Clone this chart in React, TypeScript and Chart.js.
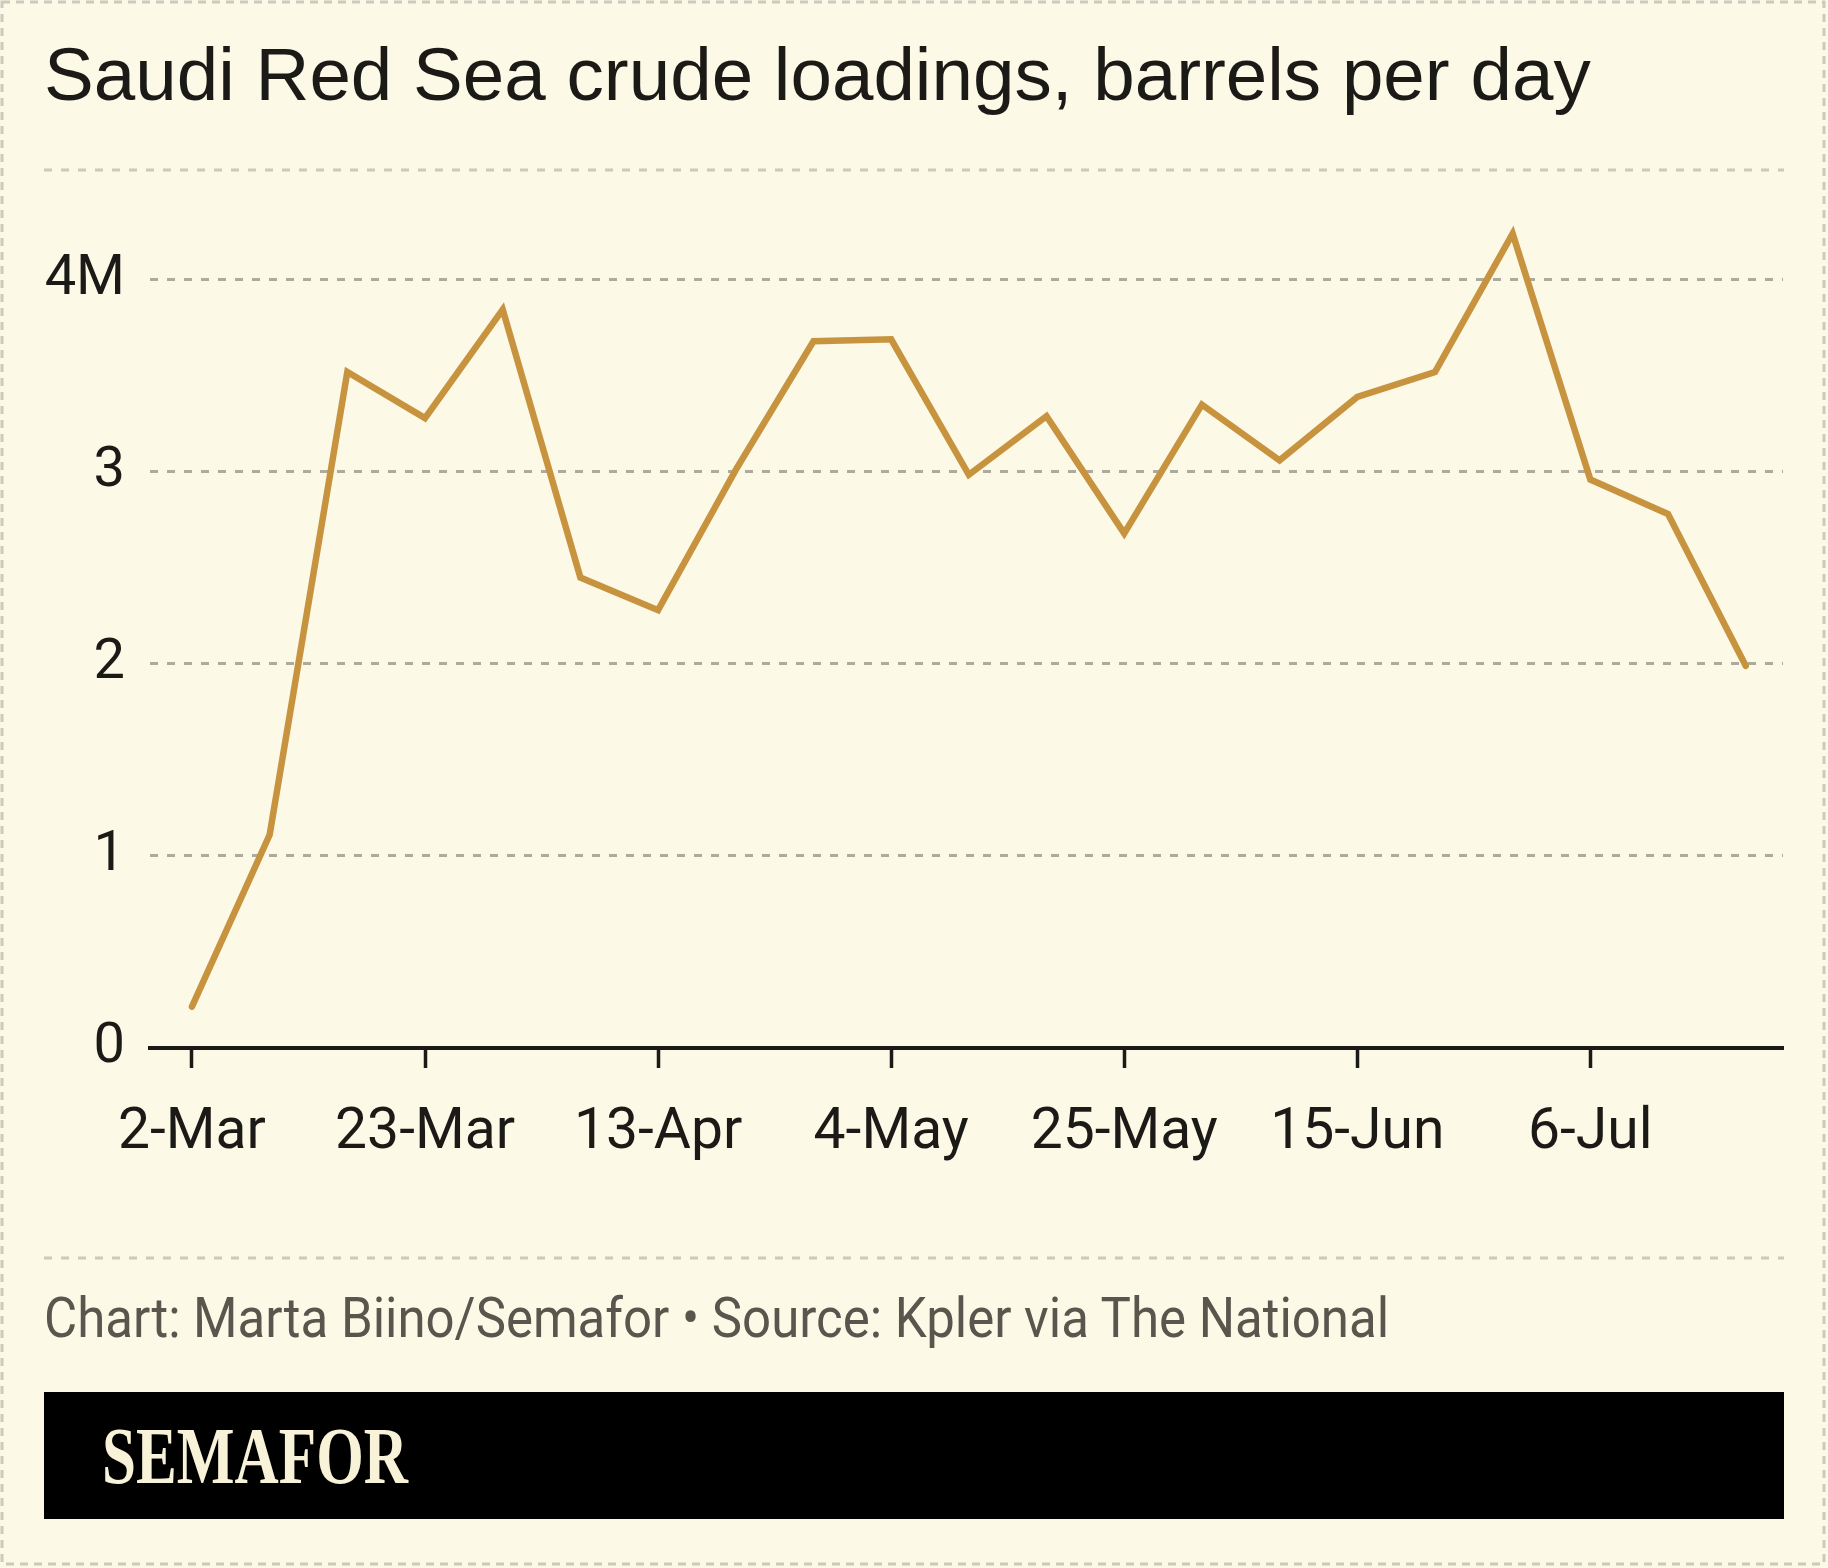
import React, { useEffect, useRef } from "react";
import { Chart, registerables } from "chart.js";

Chart.register(...registerables);

// Weekly crude loadings from Saudi Red Sea ports, million barrels per day
const weeks = [
  "2-Mar", "9-Mar", "16-Mar", "23-Mar", "30-Mar", "6-Apr", "13-Apr",
  "20-Apr", "27-Apr", "4-May", "11-May", "18-May", "25-May", "1-Jun",
  "8-Jun", "15-Jun", "22-Jun", "29-Jun", "6-Jul", "13-Jul", "20-Jul",
];
const loadings = [
  0.215, 1.11, 3.52, 3.28, 3.845, 2.45, 2.28, 3.01, 3.68, 3.69, 2.985,
  3.29, 2.68, 3.35, 3.06, 3.39, 3.52, 4.24, 2.96, 2.78, 1.99,
];
// Every third week gets a labelled tick
const xTickWeeks = [0, 3, 6, 9, 12, 15, 18];
const yTickValues = [0, 1, 2, 3, 4];

const W = 1828;
const H = 1568;
const INK = "#1c1a16";
const PAPER = "#fcf9e7";
const LINE = "#c8933f";
const GRID = "#aeab9e";
const RULE = "#ccc9bd";

export default function App() {
  const canvasRef = useRef<HTMLCanvasElement | null>(null);

  useEffect(() => {
    const canvas = canvasRef.current;
    if (!canvas) return;
    const chart = new Chart(canvas, {
      type: "line",
      data: {
        datasets: [
          {
            data: loadings.map((v, i) => ({ x: i, y: v })),
            borderColor: LINE,
            borderWidth: 6.5,
            borderJoinStyle: "miter",
            borderCapStyle: "round",
            pointRadius: 0,
            tension: 0,
            fill: false,
          },
        ],
      },
      options: {
        responsive: false,
        animation: false,
        devicePixelRatio: 1,
        layout: { padding: { left: 0, right: 45, top: 203, bottom: 400 } },
        plugins: {
          legend: { display: false },
          tooltip: { enabled: false },
          title: { display: false },
        },
        scales: {
          x: {
            type: "linear",
            min: -0.54,
            max: 20.48,
            afterFit: (s: any) => {
              s.height = 120;
            },
            afterBuildTicks: (s: any) => {
              s.ticks = xTickWeeks.map((v) => ({ value: v }));
            },
            border: { display: true, color: INK, width: 4 },
            grid: {
              drawOnChartArea: false,
              drawTicks: true,
              tickLength: 20,
              tickWidth: 3.5,
              tickColor: INK,
              color: INK,
            },
            ticks: {
              autoSkip: false,
              maxRotation: 0,
              padding: 32,
              color: INK,
              font: { family: "Roboto", size: 57 },
              callback: (v: any) => weeks[Number(v)] ?? "",
            },
          },
          y: {
            min: 0,
            max: 4.4,
            afterFit: (s: any) => {
              s.width = 150;
            },
            afterBuildTicks: (s: any) => {
              s.ticks = yTickValues.map((v) => ({ value: v }));
            },
            border: { display: false, dash: [8, 9] },
            grid: {
              drawTicks: false,
              lineWidth: 3,
              color: (ctx: any) =>
                ctx.tick && ctx.tick.value === 0 ? "rgba(0,0,0,0)" : GRID,
            },
            ticks: {
              padding: 25,
              color: INK,
              font: { family: "Roboto", size: 56 },
              callback: (v: any) => (Number(v) === 4 ? "4M" : String(v)),
            },
          },
        },
      },
    });
    return () => chart.destroy();
  }, []);

  return (
    <div
      style={{
        position: "absolute",
        left: 0,
        top: 0,
        width: W,
        height: H,
        background: PAPER,
        overflow: "hidden",
      }}
    >
      <svg
        width={W}
        height={H}
        style={{ position: "absolute", left: 0, top: 0 }}
      >
        <rect
          x={2}
          y={2}
          width={W - 6}
          height={H - 6}
          fill="none"
          stroke={RULE}
          strokeWidth={3}
          strokeDasharray="8 6"
        />
        <line
          x1={44}
          x2={1784}
          y1={170}
          y2={170}
          stroke={RULE}
          strokeWidth={3}
          strokeDasharray="8 9"
        />
        <line
          x1={44}
          x2={1784}
          y1={1258}
          y2={1258}
          stroke={RULE}
          strokeWidth={3}
          strokeDasharray="8 9"
        />
      </svg>

      <div
        style={{
          position: "absolute",
          left: 44,
          top: 37,
          fontFamily: "'Liberation Sans', Arial, sans-serif",
          fontSize: 74.6,
          lineHeight: 1,
          color: INK,
          whiteSpace: "nowrap",
        }}
      >
        Saudi Red Sea crude loadings, barrels per day
      </div>

      <canvas
        ref={canvasRef}
        width={W}
        height={H}
        style={{ position: "absolute", left: 0, top: 0, width: W, height: H }}
      />

      <div
        style={{
          position: "absolute",
          left: 44,
          top: 1290,
          fontFamily: "Roboto, sans-serif",
          fontSize: 56,
          lineHeight: 1,
          color: "#59564d",
          whiteSpace: "nowrap",
          transform: "scaleX(0.91)",
          transformOrigin: "left top",
        }}
      >
        Chart: Marta Biino/Semafor • Source: Kpler via The National
      </div>

      <div
        style={{
          position: "absolute",
          left: 44,
          top: 1392,
          width: 1740,
          height: 127,
          background: "#000",
        }}
      />
      <div
        style={{
          position: "absolute",
          left: 102,
          top: 1416,
          fontFamily: "'Liberation Serif', serif",
          fontWeight: 700,
          fontSize: 80,
          lineHeight: 1,
          color: "#f8f3d8",
          whiteSpace: "nowrap",
          transform: "scaleX(0.765)",
          transformOrigin: "left top",
        }}
      >
        SEMAFOR
      </div>
    </div>
  );
}
